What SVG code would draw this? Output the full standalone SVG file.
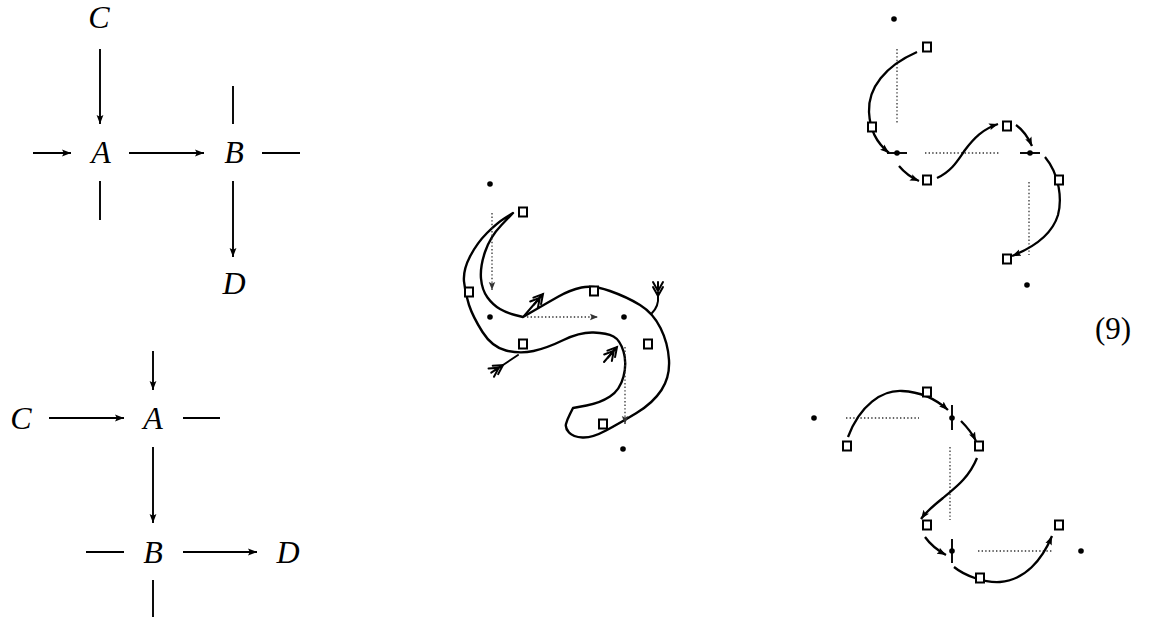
<svg xmlns="http://www.w3.org/2000/svg" width="1154" height="619" viewBox="0 0 1154 619">
<style>
.lbl{font-family:"Liberation Serif","DejaVu Serif",serif;font-style:italic;font-size:32px;text-anchor:middle;fill:#000}
.num{font-family:"Liberation Serif","DejaVu Serif",serif;font-size:31px;text-anchor:middle;fill:#000}
.ln{stroke:#000;stroke-width:1.9;fill:none}
.arr{stroke:#000;stroke-width:1.9;fill:none;marker-end:url(#ah)}
.crv{stroke:#000;stroke-width:2.3;fill:none;marker-end:url(#ah)}
.dot{fill:#000}
.sq{fill:#fff;stroke:#000;stroke-width:2}
.dt{stroke:#333;stroke-width:1.3;stroke-dasharray:1.4 2.2;fill:none}
.dta{stroke:#333;stroke-width:1.3;stroke-dasharray:1.4 2.2;fill:none;marker-end:url(#ahs)}
.rib{stroke:#000;stroke-width:2.4;fill:none;stroke-linejoin:round}
.fth{stroke:#000;stroke-width:2;fill:none;stroke-linecap:round}
</style>
<defs>
<marker id="ah" markerUnits="userSpaceOnUse" markerWidth="10" markerHeight="8" refX="9" refY="4" orient="auto">
<path d="M0,0.6 L9,4 L0,7.4 L1.8,4 z" fill="#000"/>
</marker>
<marker id="ahs" markerUnits="userSpaceOnUse" markerWidth="10" markerHeight="8" refX="8" refY="4" orient="auto">
<path d="M0,0.8 L8,4 L0,7.2 L1.5,4 z" fill="#333"/>
</marker>
<path id="chev" d="M-9,-5 L0,0 L-9,5 M-14,-5 L-5,0 L-14,5 M-14,0 L0,0" class="fth"/>
<rect id="box" x="-4" y="-4.5" width="8" height="9" class="sq"/>
<circle id="pt" r="2.8" class="dot"/>
</defs>

<!-- top-left diagram -->
<g id="tl-C"><text class="lbl" x="99" y="28">C</text></g>
<g id="tl-A"><text class="lbl" x="101" y="163">A</text></g>
<g id="tl-B"><text class="lbl" x="234" y="163">B</text></g>
<g id="tl-D"><text class="lbl" x="234" y="294">D</text></g>
<g id="tl-edges">
<line class="arr" x1="100" y1="49" x2="100" y2="124"/>
<line class="arr" x1="33" y1="153" x2="71" y2="153"/>
<line class="arr" x1="129" y1="153" x2="204" y2="153"/>
<line class="ln" x1="262" y1="153" x2="300" y2="153"/>
<line class="ln" x1="233" y1="86" x2="233" y2="124"/>
<line class="ln" x1="100" y1="181" x2="100" y2="220"/>
<line class="arr" x1="233" y1="181" x2="233" y2="257"/>
</g>

<!-- bottom-left diagram -->
<g id="bl-C"><text class="lbl" x="21" y="429">C</text></g>
<g id="bl-A"><text class="lbl" x="153" y="429">A</text></g>
<g id="bl-B"><text class="lbl" x="153" y="563">B</text></g>
<g id="bl-D"><text class="lbl" x="288" y="563">D</text></g>
<g id="bl-edges">
<line class="arr" x1="153" y1="351" x2="153" y2="390"/>
<line class="arr" x1="49" y1="418" x2="124" y2="418"/>
<line class="ln" x1="183" y1="418" x2="220" y2="418"/>
<line class="arr" x1="153" y1="447" x2="153" y2="523"/>
<line class="ln" x1="86" y1="552" x2="124" y2="552"/>
<line class="arr" x1="183" y1="552" x2="257" y2="552"/>
<line class="ln" x1="153" y1="580" x2="153" y2="617"/>
</g>

<!-- middle ribbon figure -->
<g id="ribbon">
<path class="rib" d="M513,213 L505,218 Q497,223 487,233 Q477,243 470,256.5 Q463,270 464,281.5 Q465,293 469,305 Q473,317 482.5,332 Q492,347 506,350.5 Q520,354 533.5,351 Q547,348 563.5,340 Q580,332 593.5,332.5 Q607,333 613.5,336.5 Q620,340 623.5,351.5 Q627,363 623.5,376.5 Q620,390 610,396.5 Q600,403 586.5,405.5 L573,408 L570,414 Q567,420 566,424 Q565,428 569,432.5 Q573,437 582.5,437.5 Q592,438 606,430.5 Q620,423 636.5,413 Q653,403 661.5,390 Q670,377 669,360 Q668,343 660.5,328 Q653,313 640,305 Q627,297 610,291 Q593,285 581.5,287.5 Q570,290 558.5,296.5 Q547,303 535,310 L523,317 L515,315 Q507,313 500,309 Q493,305 487.5,297.5 Q482,290 481,278.5 Q480,267 485,252 Q490,237 501.5,225 L513,213 Z"/>
</g>
<g id="ribbon-feathers">
<line class="fth" x1="524" y1="316" x2="542" y2="295"/>
<use href="#chev" transform="translate(543,294) rotate(-50)"/>
<line class="fth" x1="518" y1="355" x2="497" y2="369"/>
<use href="#chev" transform="translate(503,365) rotate(-33)"/>
<path class="fth" d="M652,313 Q659,306 658,296"/>
<use href="#chev" transform="translate(658,296) rotate(90)"/>
<line class="fth" x1="604" y1="362" x2="616" y2="348"/>
<use href="#chev" transform="translate(617,347) rotate(-50)"/>
</g>
<g id="ribbon-points">
<use href="#pt" x="490" y="184"/>
<use href="#pt" x="490" y="317"/>
<use href="#pt" x="624" y="317"/>
<use href="#pt" x="623" y="449"/>
<use href="#box" x="523" y="212"/>
<use href="#box" x="469" y="292"/>
<use href="#box" x="594" y="291"/>
<use href="#box" x="523" y="344"/>
<use href="#box" x="648" y="344"/>
<use href="#box" x="603" y="424"/>
</g>
<g id="ribbon-dotted">
<line class="dta" x1="492" y1="213" x2="492" y2="290"/>
<line class="dta" x1="527" y1="317" x2="598" y2="317"/>
<line class="dta" x1="625" y1="347" x2="625" y2="424"/>
</g>

<!-- top-right figure -->
<g id="tr-dotted">
<line class="dt" x1="897" y1="49" x2="897" y2="123"/>
<line class="dt" x1="925" y1="153" x2="1000" y2="153"/>
<line class="dt" x1="1029" y1="182" x2="1029" y2="255"/>
</g>
<g id="tr-curves">
<path class="crv" d="M917,52 C885,66 868,88 869,112 C870,130 876,142 889,153"/>
<path class="crv" d="M899,166 C904,172 910,177 919,181"/>
<path class="crv" d="M937,178 C952,171 958,160 965,150 C974,138 983,129 998,124"/>
<path class="crv" d="M1016,125 C1023,130 1028,137 1032,146"/>
<path class="crv" d="M1045,157 C1060,175 1062,200 1058,215 C1052,235 1032,248 1012,256"/>
<line class="ln" x1="887" y1="153" x2="907" y2="153"/>
<line class="ln" x1="1020" y1="153" x2="1040" y2="153"/>
</g>
<g id="tr-points">
<use href="#pt" x="894" y="19"/>
<use href="#pt" x="897" y="153"/>
<use href="#pt" x="1030" y="153"/>
<use href="#pt" x="1027" y="285"/>
<use href="#box" x="927" y="47"/>
<use href="#box" x="872" y="127"/>
<use href="#box" x="927" y="180"/>
<use href="#box" x="1007" y="126"/>
<use href="#box" x="1059" y="180"/>
<use href="#box" x="1007" y="259"/>
</g>

<!-- bottom-right figure -->
<g id="br-dotted">
<line class="dt" x1="846" y1="418" x2="919" y2="418"/>
<line class="dt" x1="950" y1="447" x2="950" y2="520"/>
<line class="dt" x1="978" y1="551" x2="1053" y2="551"/>
</g>
<g id="br-curves">
<path class="crv" d="M848,437 C860,405 882,390 902,391 C922,392 937,400 948,410"/>
<path class="crv" d="M961,421 C967,427 972,433 976,441"/>
<path class="crv" d="M977,458 C968,480 952,490 943,498 C933,506 926,512 921,519"/>
<path class="crv" d="M925,537 C930,544 937,550 946,555"/>
<path class="crv" d="M954,567 C965,576 985,583 1000,582 C1025,580 1042,560 1052,536"/>
<line class="ln" x1="952" y1="405" x2="952" y2="430"/>
<line class="ln" x1="952" y1="539" x2="952" y2="563"/>
</g>
<g id="br-points">
<use href="#pt" x="814" y="418"/>
<use href="#pt" x="952" y="418"/>
<use href="#pt" x="952" y="551"/>
<use href="#pt" x="1081" y="551"/>
<use href="#box" x="847" y="446"/>
<use href="#box" x="927" y="392"/>
<use href="#box" x="979" y="446"/>
<use href="#box" x="927" y="525"/>
<use href="#box" x="980" y="578"/>
<use href="#box" x="1059" y="525"/>
</g>

<g id="eqnum"><text class="num" x="1113" y="339">(9)</text></g>
</svg>
